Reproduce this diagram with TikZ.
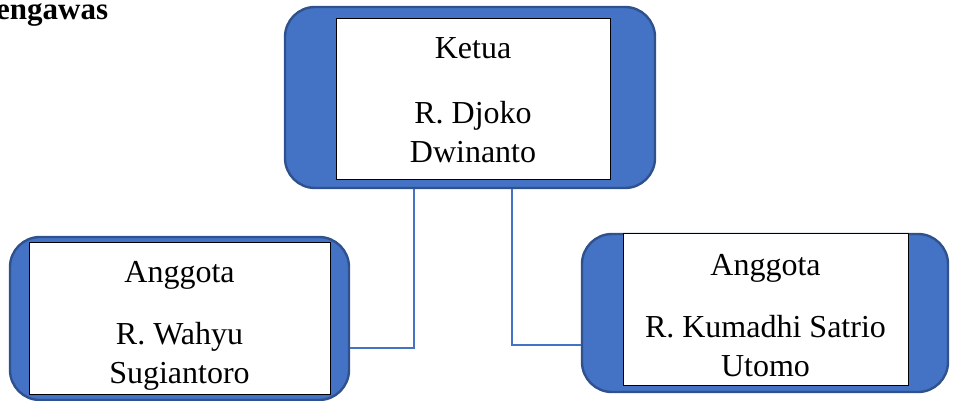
\documentclass[tikz,border=0pt]{standalone}
\usepackage{fontspec}
\setmainfont{Liberation Serif}
\definecolor{boxblue}{HTML}{4472C4}
\definecolor{edgeblue}{HTML}{2F528F}
\usetikzlibrary{positioning}

\begin{document}
\begin{tikzpicture}[x=1pt,y=-1pt,
    outerbox/.style={draw=edgeblue,line width=2.4pt,fill=boxblue,rounded corners=30pt},
    namebox/.style={draw=black,fill=white,line width=0.8pt,inner sep=0pt},
    nametext/.style={align=center,inner sep=0pt,font=\fontsize{32}{39}\selectfont},
    link/.style={boxblue,line width=2pt}]
    \useasboundingbox (0,0) rectangle (955,401);

    % Title
    \node[anchor=base west,inner sep=0pt,font=\fontsize{31}{39}\selectfont\bfseries]
      (judul) at (-23,20) {Pengawas};

    % Ketua
    \node[outerbox,minimum width=370pt,minimum height=181pt] (ketuaout) at (470,97.5) {};
    \node[namebox,minimum width=274pt,minimum height=161pt] (ketua) at (473,98.5) {};
    \node[nametext,below=2pt of ketua.center,anchor=center] (ketuatext)
      {Ketua\\[26pt]R. Djoko\\Dwinanto};

    % Anggota (left)
    \node[outerbox,minimum width=339pt,minimum height=163pt] (kiriout) at (179.5,318.5) {};
    \node[namebox,minimum width=301pt,minimum height=152pt] (kiri) at (179.5,318) {};
    \node[nametext,below=8pt of kiri.center,anchor=center] (kiritext)
      {Anggota\\[23pt]R. Wahyu\\Sugiantoro};

    % Anggota (right)
    \node[outerbox,minimum width=366pt,minimum height=158pt] (kananout) at (765,313) {};
    \node[namebox,minimum width=285pt,minimum height=152pt] (kanan) at (765.5,309) {};
    \node[nametext,below=7pt of kanan.center,anchor=center] (anantext)
      {Anggota\\[23pt]R. Kumadhi Satrio\\Utomo};

    % Connectors
    \coordinate (kirijoint) at (414,348);
    \coordinate (kananjoint) at (512,345);
    \draw[link] (ketuaout.south -| kirijoint) |- (kiriout.east |- kirijoint);
    \draw[link] (ketuaout.south -| kananjoint) |- (kananout.west |- kananjoint);
  \end{tikzpicture}
\end{document}
